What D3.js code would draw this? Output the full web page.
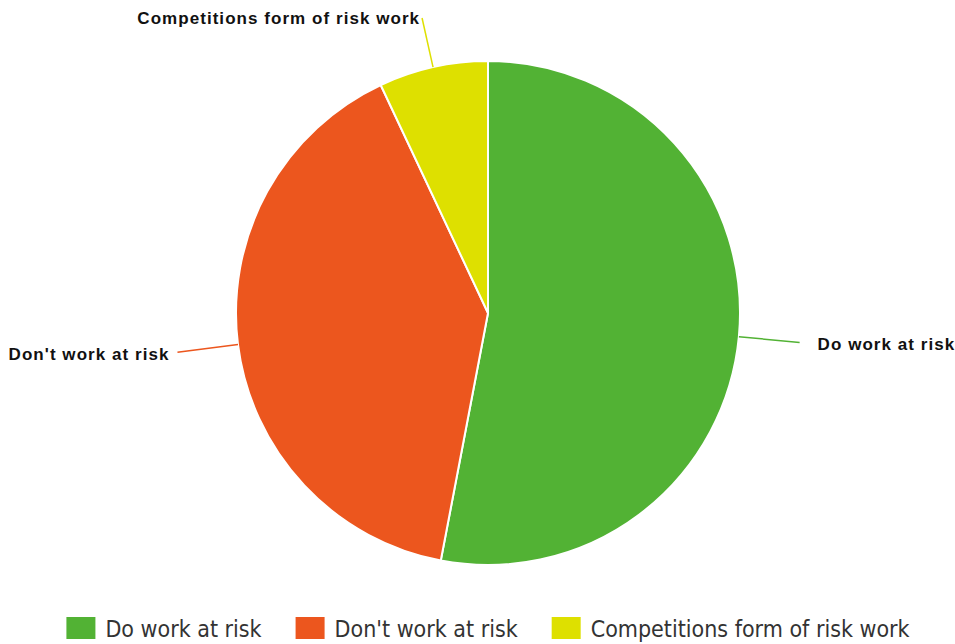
<!DOCTYPE html>
<html>
<head>
<meta charset="utf-8">
<script src="https://cdn.jsdelivr.net/npm/d3@7"></script>
<style>
  html, body { margin: 0; padding: 0; background: #fff; }
  svg { display: block; }
  .slice-label { font-family: "Liberation Sans", Arial, sans-serif; font-weight: bold; font-size: 17px; letter-spacing: 1.05px; fill: #111; }
  .legend-label { font-family: "DejaVu Sans Condensed", "DejaVu Sans", sans-serif; font-stretch: condensed; font-size: 23px; fill: #333; }
</style>
</head>
<body>
<svg id="chart" width="955" height="644"></svg>
<script>
// Share of respondents by approach to working at risk
const categories = ["Do work at risk", "Don't work at risk", "Competitions form of risk work"];
const values = [53, 40, 7];
const colors = ["#52b234", "#ec561e", "#dee000"];

const width = 955, height = 644;
const cx = 488, cy = 313, radius = 252;

const svg = d3.select("#chart");
const color = d3.scaleOrdinal().domain(categories).range(colors);

const pie = d3.pie().sort(null).value(d => d.value).startAngle(0).endAngle(2 * Math.PI);
const data = pie(categories.map((c, i) => ({ category: c, value: values[i] })));
const arc = d3.arc().innerRadius(0).outerRadius(radius);

const g = svg.append("g").attr("transform", `translate(${cx},${cy})`);

g.selectAll("path.slice")
  .data(data)
  .join("path")
  .attr("class", "slice")
  .attr("d", arc)
  .attr("fill", d => color(d.data.category))
  .attr("stroke", "#fff")
  .attr("stroke-width", 2)
  .attr("stroke-linejoin", "round");

// Leader lines and labels
const leaderLen = 61;
const topLimit = 18 - cy;
data.forEach(d => {
  const a = (d.startAngle + d.endAngle) / 2;
  const sx = Math.sin(a), sy = -Math.cos(a);
  const p0 = [sx * radius, sy * radius];
  let rEnd = radius + leaderLen;
  if (sy * rEnd < topLimit) rEnd = topLimit / sy;
  const p1 = [sx * rEnd, sy * rEnd];
  const nearTop = sy * (radius + leaderLen) < topLimit;

  g.append("line")
    .attr("x1", p0[0]).attr("y1", p0[1])
    .attr("x2", p1[0]).attr("y2", p1[1])
    .attr("stroke", color(d.data.category))
    .attr("stroke-width", 1.5);

  const right = sx >= 0;
  const gap = right ? 18 : (nearTop ? 2 : 8);
  g.append("text")
    .attr("class", "slice-label")
    .attr("x", p1[0] + (right ? gap : -gap))
    .attr("y", p1[1] + (nearTop ? 0 : 2))
    .attr("dy", "0.35em")
    .attr("text-anchor", right ? "start" : "end")
    .text(d.data.category);
});

// Legend along the bottom, centred under the pie
const legend = svg.append("g").attr("class", "legend");
const swW = 29, swH = 22, swGap = 10, itemGap = 34, legendY = 628;
const items = legend.selectAll("g.item")
  .data(categories)
  .join("g")
  .attr("class", "item");

items.append("rect")
  .attr("width", swW).attr("height", swH)
  .attr("y", legendY - swH / 2)
  .attr("fill", d => color(d));

items.append("text")
  .attr("class", "legend-label")
  .attr("x", swW + swGap)
  .attr("y", legendY + 9)
  .text(d => d);

const widths = [];
items.each(function () {
  widths.push(swW + swGap + this.querySelector("text").getComputedTextLength());
});
const total = d3.sum(widths) + itemGap * (widths.length - 1);
let x0 = cx - total / 2;
items.attr("transform", (d, i) => {
  const t = `translate(${x0},0)`;
  x0 += widths[i] + itemGap;
  return t;
});
</script>
</body>
</html>
